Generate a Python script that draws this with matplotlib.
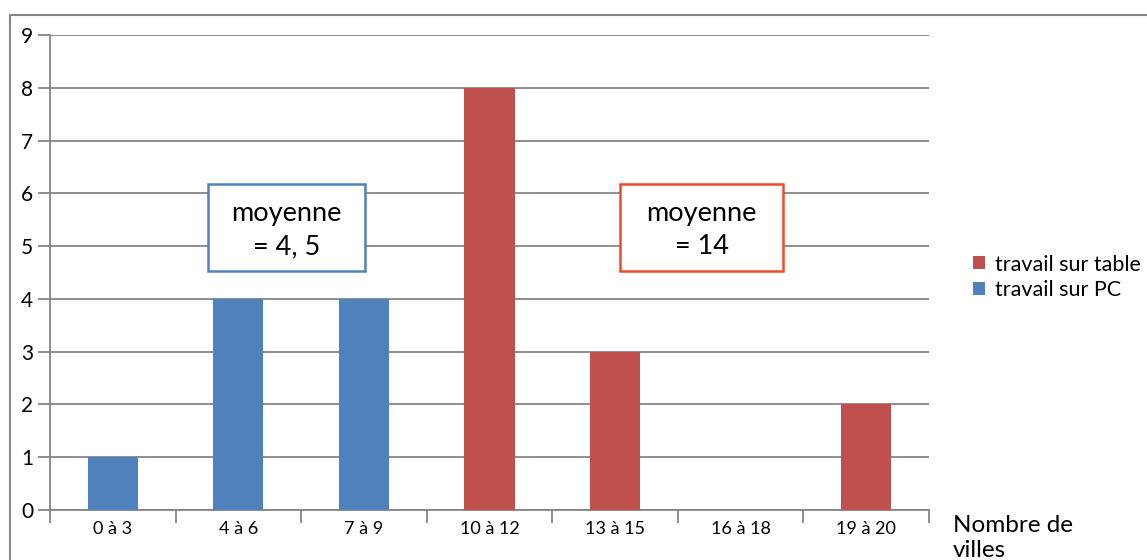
import matplotlib.pyplot as plt
from matplotlib.patches import Rectangle
from matplotlib.lines import Line2D

plt.rcParams['font.family'] = ['Lato', 'DejaVu Sans']

categories = ["0 à 3", "4 à 6", "7 à 9", "10 à 12", "13 à 15", "16 à 18", "19 à 20"]
pc_values = [1, 4, 4, 0, 0, 0, 0]
table_values = [0, 0, 0, 8, 3, 0, 2]
series_names = ["travail sur table", "travail sur PC"]

blue = "#4F81BD"
red = "#C0504D"
grid = "#868686"

fig = plt.figure(figsize=(11.47, 5.6), dpi=100)
ax = fig.add_axes([50 / 1147, 50 / 560, 879 / 1147, 475 / 560])

x = range(len(categories))
ax.bar(x, pc_values, width=0.4, color=blue, zorder=3, label=series_names[1])
ax.bar(x, table_values, width=0.4, bottom=pc_values, color=red, zorder=3,
       label=series_names[0])

ax.set_xlim(-0.5, len(categories) - 0.5)
ax.set_ylim(0, 9)
ax.set_yticks(range(10))
ax.yaxis.grid(True, color=grid, linewidth=1.3, zorder=0)
ax.set_xticks([i - 0.5 for i in range(len(categories) + 1)], minor=False)
ax.set_xticklabels([])
ax.set_xticks(list(x), minor=True)
ax.set_xticklabels(categories, minor=True, fontsize=13)
ax.tick_params(axis='x', which='minor', length=0, pad=8)
ax.tick_params(axis='x', which='major', length=9, color=grid, width=1.3)
ax.tick_params(axis='y', length=9, color=grid, width=1.3, labelsize=15, pad=3)
for s in ["top", "right"]:
    ax.spines[s].set_visible(False)
for s in ["left", "bottom"]:
    ax.spines[s].set_color(grid)
    ax.spines[s].set_linewidth(1.3)

# boxes with the means
ax.add_patch(Rectangle((0.76, 4.53), 1.25, 1.65, fill=True, facecolor="white",
                       edgecolor=blue, linewidth=1.8, zorder=4))
ax.text(1.385, 5.3, "moyenne\n= 4, 5", ha="center", va="center", fontsize=19.5,
        linespacing=1.4, zorder=5)
ax.add_patch(Rectangle((4.04, 4.53), 1.3, 1.65, fill=True, facecolor="white",
                       edgecolor="#EE4B2B", linewidth=1.8, zorder=4))
ax.text(4.69, 5.3, "moyenne\n= 14", ha="center", va="center", fontsize=19.5,
        linespacing=1.4, zorder=5)

handles, labels = ax.get_legend_handles_labels()
ax.legend(handles[::-1], labels[::-1], loc="center left", bbox_to_anchor=(1.028, 0.49),
          frameon=False, fontsize=15.5, handlelength=0.55, handleheight=0.55,
          handletextpad=0.45, labelspacing=0.25)

fig.text(953 / 1147, 1 - 538 / 560, "Nombre de\nvilles", fontsize=17.5, va="center",
         ha="left", linespacing=1.2)

# outer chart frame
fig.add_artist(Line2D([10 / 1147, 10 / 1147], [0, 1 - 15 / 560], color=grid,
                      linewidth=1.5, transform=fig.transFigure))
fig.add_artist(Line2D([10 / 1147, 1], [1 - 15 / 560, 1 - 15 / 560], color=grid,
                      linewidth=1.5, transform=fig.transFigure))

fig.savefig("out.png")
